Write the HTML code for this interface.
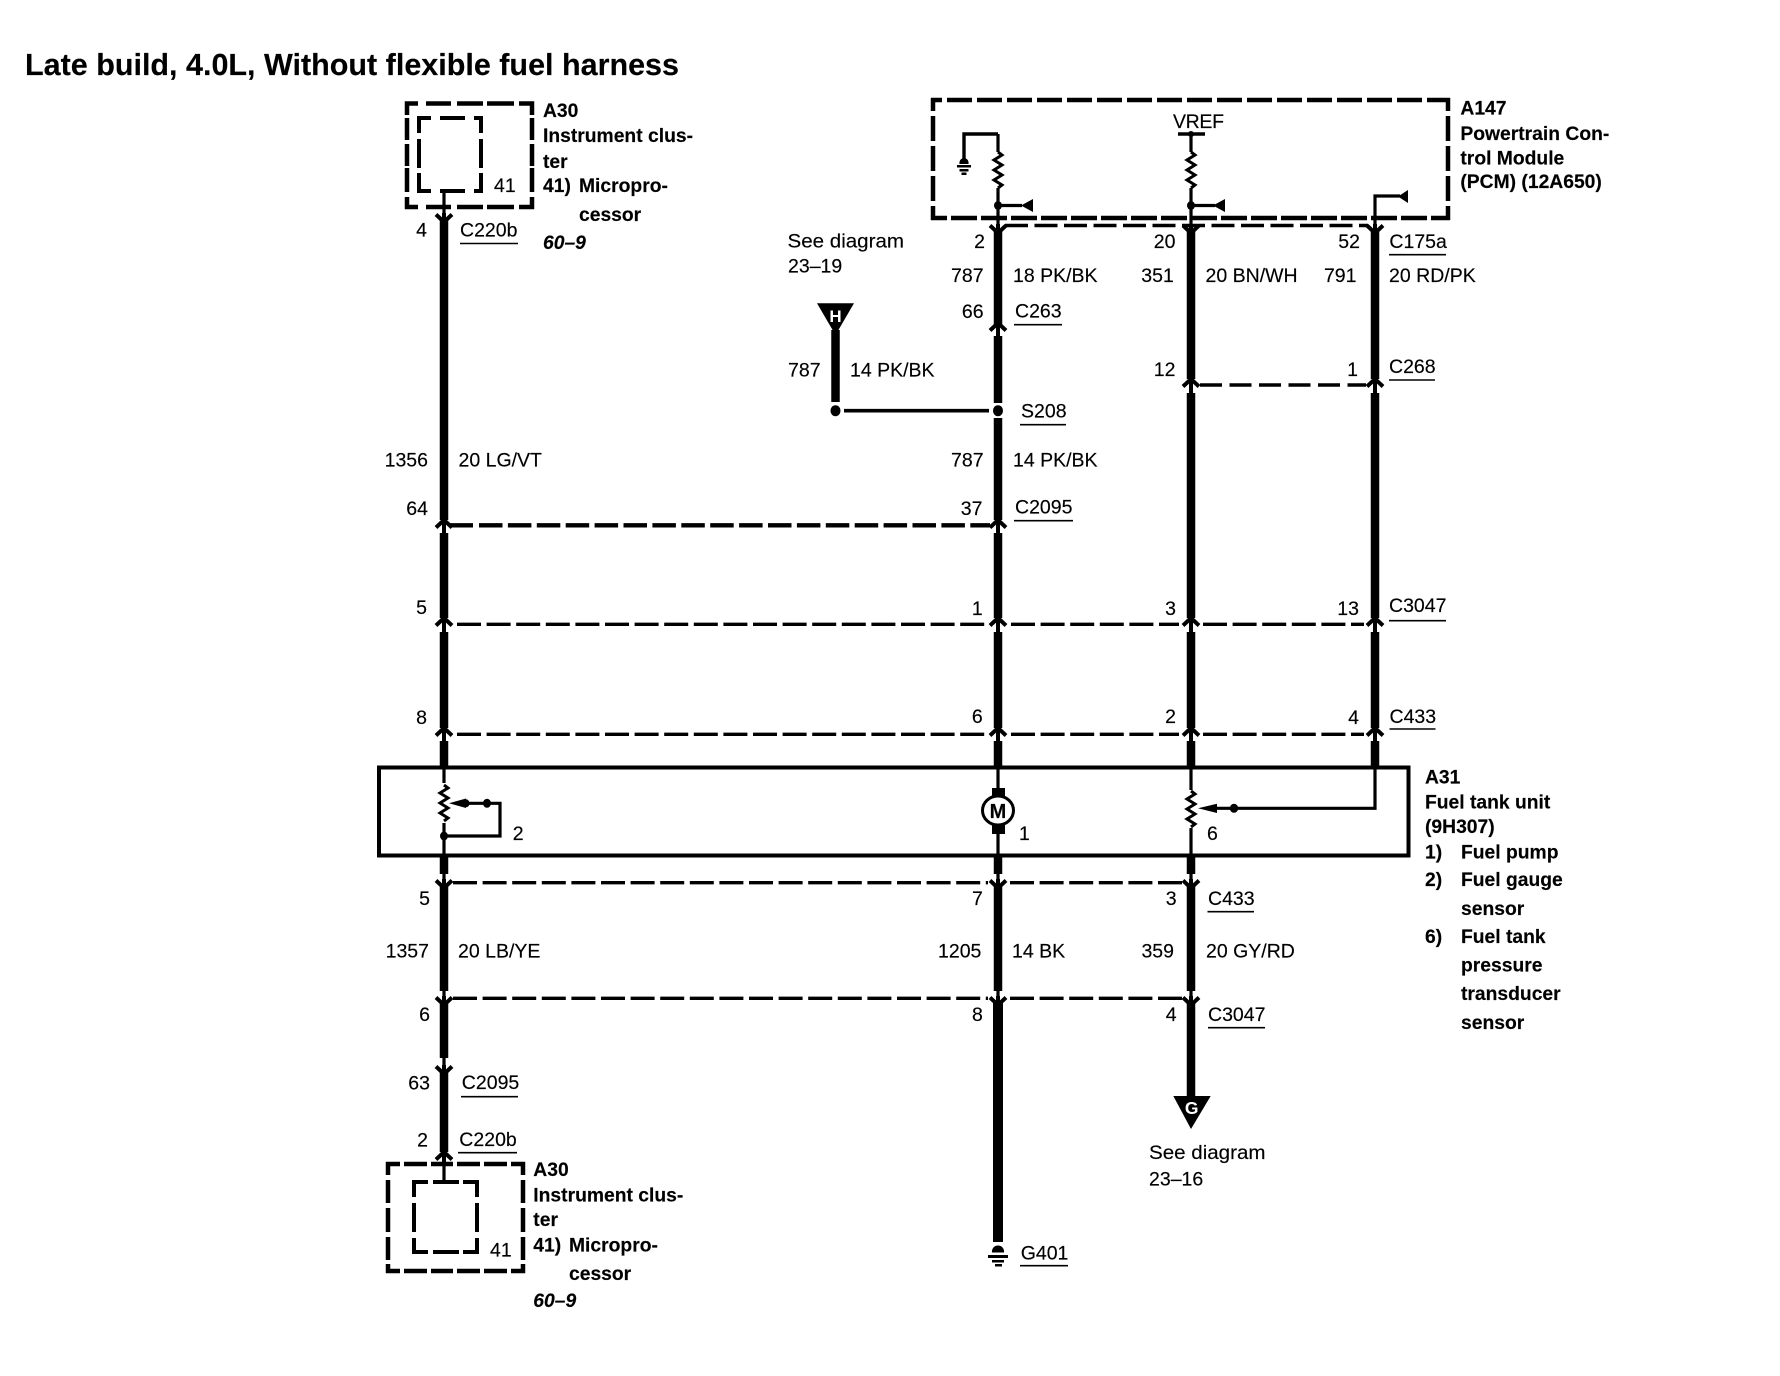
<!DOCTYPE html>
<html><head><meta charset="utf-8"><title>Late build, 4.0L, Without flexible fuel harness</title>
<style>
html,body{margin:0;padding:0;background:#fff}
svg{display:block}
text{font-family:"Liberation Sans",Arial,sans-serif;fill:#000;font-size:19.5px;stroke:#000;stroke-width:.15}
.b text,text.b{font-weight:bold;font-size:19.3px}
.r text{text-anchor:end}
.i{font-style:italic;font-weight:bold;font-size:19.3px}
</style></head><body>
<svg width="1780" height="1376" viewBox="0 0 1780 1376" xmlns="http://www.w3.org/2000/svg">
<defs>
<path id="cu" d="M-8,7.5 L0,0 L8,7.5 M0,0 V14" fill="none" stroke="#000" stroke-width="4"/>
<path id="cd" d="M-8,-7.5 L0,0 L8,-7.5 M0,0 V-9" fill="none" stroke="#000" stroke-width="4"/>
<path id="sq" d="M0,0 l4,3 l-8,5 l8,5 l-8,5 l8,5 l-8,5 l8,5 l-4,3" fill="none" stroke="#000" stroke-width="3"/>
</defs>
<rect width="1780" height="1376" fill="#fff"/>

<text x="25" y="75" style="font-size:30.3px;font-weight:bold" textLength="654" lengthAdjust="spacingAndGlyphs">Late build, 4.0L, Without flexible fuel harness</text>

<!-- component boxes -->
<g fill="none" stroke="#000">
<!-- upper A30 outer -->
<path stroke-width="4.5" stroke-linejoin="miter" d="M407,115 V103.5 H418 M426,103.5 H451 M457,103.5 H483 M487,103.5 H514 M519,103.5 H532 V115 M532,118 V140 M532,144 V166 M532,168 V192 M532,197 V207 H519 M514,207 H487 M483,207 H457 M451,207 H426 M418,207 H407 V197 M407,192 V168 M407,166 V144 M407,140 V118"/>
<!-- upper A30 inner -->
<path stroke-width="4" d="M419,133 V118 H431 M440,118 H465 M474,118 H481 V133 M481,139 V168 M481,173 V191 H474 M465,191 H440 M431,191 H419 V173 M419,168 V139"/>
<!-- PCM -->
<path stroke-width="4.5" stroke-dasharray="25 5" stroke-dashoffset="14" d="M931,100 H1450"/>
<path stroke-width="4.5" stroke-dasharray="26 4" stroke-dashoffset="10" d="M931,218 H1450"/>
<path stroke-width="4.5" stroke-dasharray="25 5" stroke-dashoffset="12" d="M933,98 V220 M1448,98 V220"/>
<rect x="379" y="767.5" width="1029.5" height="88" stroke-width="4"/>
<!-- lower A30 outer -->
<path stroke-width="4.5" d="M388,1175 V1164 H400 M404,1164 H427 M431,1164 H453 M457,1164 H480 M484,1164 H507 M511,1164 H523 V1175 M523,1180 V1203 M523,1208 V1232 M523,1237 V1260 M523,1264 V1271 H511 M507,1271 H484 M480,1271 H457 M453,1271 H431 M427,1271 H404 M400,1271 H388 V1264 M388,1260 V1237 M388,1232 V1208 M388,1203 V1180"/>
<!-- lower A30 inner -->
<path stroke-width="4" d="M414,1197 V1182 H428 M433,1182 H459 M463,1182 H477 V1197 M477,1203 V1232 M477,1238 V1252 H463 M459,1252 H433 M428,1252 H414 V1238 M414,1232 V1203"/>
</g>

<!-- dashed connector lines -->
<g fill="none" stroke="#000">
<path d="M1005,225.5 H1368" stroke-width="3.4" stroke-dasharray="23 6.5"/>
<path d="M1200,385 H1366" stroke-width="3.4" stroke-dasharray="22 7.5"/>
<path d="M450,525.3 H473" stroke-width="4.3"/>
<path d="M479,525.3 H990" stroke-width="4.3" stroke-dasharray="23.5 5.4"/>
<path d="M457,624.3 H986 M1011,624.3 H1179 M1203,624.3 H1364" stroke-width="3.4" stroke-dasharray="24 5.6"/>
<path d="M457,734.3 H986 M1011,734.3 H1179 M1203,734.3 H1364" stroke-width="3.4" stroke-dasharray="24 5.6"/>
<path d="M453,882.7 H988 M1010,882.7 H1182" stroke-width="3.4" stroke-dasharray="24 5.6"/>
<path d="M453,998.3 H988 M1010,998.3 H1182" stroke-width="3.4" stroke-dasharray="24 5.6"/>
</g>

<!-- thick wires -->
<g fill="none" stroke="#000" stroke-width="8.5">
<path d="M444,219 V520 M444,533 V618 M444,632 V728 M444,741 V767 M444,857 V874 M444,886 V991 M444,1003 V1058 M444,1072 V1152"/>
<path d="M998,230 V325 M998,336 V403 M998,418 V520 M998,533 V618 M998,632 V728 M998,741 V767 M998,857 V874 M998,886 V991"/>
<path d="M1191,230 V379 M1191,393 V618 M1191,632 V728 M1191,741 V767 M1191,857 V874 M1191,886 V991 M1191,1003 V1098"/>
<path d="M1375,230 V379 M1375,393 V618 M1375,632 V728 M1375,741 V767"/>
<path d="M835.5,330 V402"/>
<path d="M998,1003 V1242" stroke-width="10"/>
</g>

<!-- thin wires -->
<g fill="none" stroke="#000" stroke-width="3.2">
<path d="M444,191 V216"/>
<path d="M444,1158 V1182"/>
<path d="M444,874 V882 M998,874 V882 M1191,874 V882 M444,991 V998 M998,991 V998 M1191,991 V998 M444,1058 V1067"/>
<path d="M444,767 V783 M444,823 V855"/>
<path d="M998,767 V790 M998,834 V855"/>
<path d="M1191,767 V790 M1191,828 V855"/>
<path d="M1375,767 V808.3 H1215"/>
<path d="M460,803.3 H500 V836 H444"/>
<path d="M998,134 H964 V160" stroke-width="3.4"/>
<path d="M998,134 V152 M998,188 V226"/>
<path d="M1178,134 H1205" stroke-width="3.6"/>
<path d="M1191,134 V152 M1191,188 V226"/>
<path d="M1375,226 V196 H1400"/>
<path d="M998,205.5 H1022 M1191,205.5 H1215"/>
<path d="M844,410.7 H989" stroke-width="3.6"/>
</g>

<!-- resistors -->
<use href="#sq" x="998" y="152"/>
<use href="#sq" x="1191" y="152"/>
<use href="#sq" x="444" y="785"/>
<use href="#sq" x="1191" y="791"/>

<!-- chevrons -->
<use href="#cd" x="998" y="233"/><use href="#cd" x="1191" y="233"/><use href="#cd" x="1375" y="233"/><use href="#cd" x="444" y="222"/>
<use href="#cu" x="998" y="323"/>
<use href="#cu" x="1191" y="379"/><use href="#cu" x="1375" y="379"/>
<use href="#cu" x="444" y="520"/><use href="#cu" x="998" y="520"/>
<use href="#cu" x="444" y="618"/><use href="#cu" x="998" y="618"/><use href="#cu" x="1191" y="618"/><use href="#cu" x="1375" y="618"/>
<use href="#cu" x="444" y="728"/><use href="#cu" x="998" y="728"/><use href="#cu" x="1191" y="728"/><use href="#cu" x="1375" y="728"/>
<use href="#cd" x="444" y="888"/><use href="#cd" x="998" y="888"/><use href="#cd" x="1191" y="888"/>
<use href="#cd" x="444" y="1005"/><use href="#cd" x="998" y="1005"/><use href="#cd" x="1191" y="1005"/>
<use href="#cd" x="444" y="1074"/>
<use href="#cu" x="444" y="1152"/>

<!-- nodes, arrow triangles -->
<g fill="#000">
<circle cx="1191" cy="134" r="3"/>
<ellipse cx="998" cy="205.5" rx="4" ry="4.5"/><ellipse cx="1191" cy="205.5" rx="4" ry="4.5"/>
<polygon points="1021,205.5 1033,199 1033,212"/>
<polygon points="1213,205.5 1225,199 1225,212"/>
<polygon points="1398,196.5 1408,190 1408,203"/>
<ellipse cx="835.5" cy="410.7" rx="5" ry="5.5"/><ellipse cx="998" cy="410.7" rx="5" ry="5.5"/>
<polygon points="817,303.3 854,303.3 835.5,335"/>
<polygon points="1173.3,1096 1210.7,1096 1191,1129"/>
<ellipse cx="487" cy="803.3" rx="4" ry="4.5"/><ellipse cx="444" cy="836" rx="4" ry="4.5"/>
<polygon points="449,803.3 466,798.5 466,808"/>
<ellipse cx="466" cy="803.3" rx="3.5" ry="4"/>
<polygon points="1198,808.3 1217,803.8 1217,813"/>
<ellipse cx="1234" cy="808.3" rx="4.2" ry="4.5"/>
<!-- motor -->
<rect x="992" y="788" width="13" height="9"/><rect x="992" y="824" width="13" height="10"/>
<!-- PCM ground -->
<path d="M964,158 a4.5,5 0 0 1 4.5,6 h-9 a4.5,5 0 0 1 4.5,-6z"/>
<rect x="957" y="165" width="14" height="2.5"/><rect x="959.5" y="169" width="9" height="2.5"/><rect x="961.5" y="172.5" width="5" height="2.5"/>
<!-- G401 ground -->
<path d="M998,1245.5 a6,6 0 0 1 6,7 h-12 a6,6 0 0 1 6,-7z"/>
<rect x="988" y="1255" width="20" height="3"/><rect x="992" y="1260" width="12" height="2.5"/><rect x="995" y="1264" width="7" height="2.5"/>
</g>
<ellipse cx="998" cy="810.5" rx="15.5" ry="14.5" fill="#fff" stroke="#000" stroke-width="3"/>

<!-- underlines -->
<path fill="none" stroke="#000" stroke-width="1.6" d="M460,243.5 H518 M1389,254.7 H1446 M1014,324.7 H1062 M1389,380 H1435 M1020,424.7 H1066 M1014,520.7 H1073 M1389,620.7 H1446 M1389.5,729 H1435.5 M1207.5,911.7 H1254 M1208,1027.7 H1265 M461,1096.7 H518 M458,1152.7 H517 M1020,1265.7 H1068"/>

<!-- regular labels -->
<g>
<text x="460" y="236.7">C220b</text>
<text x="494" y="192">41</text>
<text x="787.5" y="247.3" textLength="116.5" lengthAdjust="spacingAndGlyphs">See diagram</text>
<text x="788" y="272.7">23–19</text>
<text x="850" y="376.7">14 PK/BK</text>
<text x="1173" y="128" textLength="51">VREF</text>
<text x="1389.4" y="248">C175a</text>
<text x="1013" y="282">18 PK/BK</text>
<text x="1205.5" y="282">20 BN/WH</text>
<text x="1389" y="282">20 RD/PK</text>
<text x="1015" y="317.7">C263</text>
<text x="1389" y="373">C268</text>
<text x="1021" y="417.3">S208</text>
<text x="458.5" y="466.7">20 LG/VT</text>
<text x="1013" y="466.7">14 PK/BK</text>
<text x="1015" y="513.3">C2095</text>
<text x="1389" y="612">C3047</text>
<text x="1389.5" y="723">C433</text>
<text x="512.7" y="840">2</text>
<text x="1019" y="840">1</text>
<text x="1207" y="840">6</text>
<text x="1208" y="905">C433</text>
<text x="458" y="957.7">20 LB/YE</text>
<text x="1012" y="957.7">14 BK</text>
<text x="1206" y="957.7">20 GY/RD</text>
<text x="1208" y="1021">C3047</text>
<text x="461.8" y="1089">C2095</text>
<text x="459.3" y="1146">C220b</text>
<text x="490" y="1256.7">41</text>
<text x="1149" y="1159" textLength="116.5" lengthAdjust="spacingAndGlyphs">See diagram</text>
<text x="1149" y="1185.7">23–16</text>
<text x="1020.7" y="1259.3">G401</text>
</g>
<g class="r">
<text x="427" y="236.7">4</text>
<text x="985" y="248">2</text><text x="1175.5" y="248">20</text><text x="1360" y="248">52</text>
<text x="820.6" y="376.7">787</text>
<text x="983.6" y="282">787</text><text x="1173.8" y="282">351</text><text x="1356.5" y="282">791</text>
<text x="983.6" y="318">66</text>
<text x="1175.5" y="376">12</text><text x="1358" y="376">1</text>
<text x="428" y="466.7">1356</text><text x="983.6" y="466.7">787</text>
<text x="428" y="515">64</text><text x="982.5" y="515">37</text>
<text x="427" y="614">5</text><text x="982.7" y="615">1</text><text x="1176" y="615">3</text><text x="1359" y="615">13</text>
<text x="427" y="724">8</text><text x="982.7" y="723">6</text><text x="1176" y="723">2</text><text x="1359" y="724">4</text>
<text x="430" y="905">5</text><text x="982.8" y="905">7</text><text x="1176.6" y="905">3</text>
<text x="429" y="957.7">1357</text><text x="981.4" y="957.7">1205</text><text x="1174" y="957.7">359</text>
<text x="430" y="1021">6</text><text x="982.8" y="1021">8</text><text x="1176.6" y="1021">4</text>
<text x="430" y="1089.3">63</text>
<text x="428" y="1146.7">2</text>
</g>

<!-- bold labels -->
<g class="b">
<text x="543" y="117">A30</text>
<text x="543" y="142">Instrument clus-</text>
<text x="543" y="168">ter</text>
<text x="543" y="192">41)</text><text x="579" y="192">Micropro-</text>
<text x="579" y="221">cessor</text>
<text x="1460.4" y="114.3">A147</text>
<text x="1460.4" y="140">Powertrain Con-</text>
<text x="1460.4" y="164.3">trol Module</text>
<text x="1460.4" y="188">(PCM) (12A650)</text>
<text x="1425" y="783.3">A31</text>
<text x="1425" y="808.3">Fuel tank unit</text>
<text x="1425" y="833">(9H307)</text>
<text x="1425" y="858.3">1)</text><text x="1461" y="858.3">Fuel pump</text>
<text x="1425" y="886">2)</text><text x="1461" y="886">Fuel gauge</text>
<text x="1461" y="915">sensor</text>
<text x="1425" y="943">6)</text><text x="1461" y="943">Fuel tank</text>
<text x="1461" y="971.7">pressure</text>
<text x="1461" y="1000">transducer</text>
<text x="1461" y="1029">sensor</text>
<text x="533.3" y="1176">A30</text>
<text x="533.3" y="1201.7">Instrument clus-</text>
<text x="533.3" y="1226">ter</text>
<text x="533.3" y="1251.7">41)</text><text x="569" y="1251.7">Micropro-</text>
<text x="569" y="1280">cessor</text>
</g>
<text class="i" x="543" y="249">60–9</text>
<text class="i" x="533.3" y="1307">60–9</text>
<text x="998" y="818" text-anchor="middle" style="font-weight:bold;font-size:20px">M</text>
<text x="835.5" y="322" text-anchor="middle" style="font-weight:bold;font-size:17px;fill:#fff;stroke:none">H</text>
<text x="1191.7" y="1114" text-anchor="middle" style="font-weight:bold;font-size:17.5px;fill:#fff;stroke:none">G</text>
</svg>
</body></html>
